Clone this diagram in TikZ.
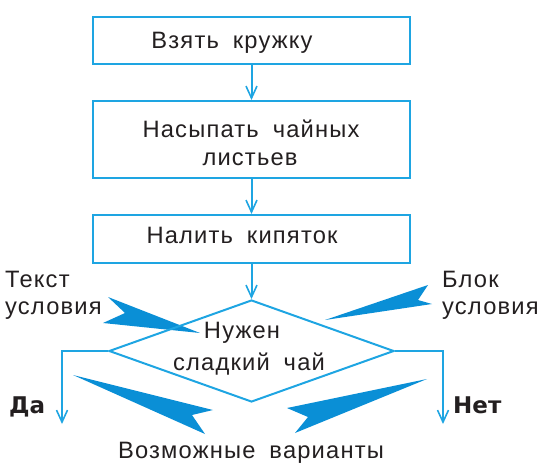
\documentclass[tikz,border=0pt]{standalone}
\usepackage{fontspec}
\setmainfont{Liberation Sans}[LetterSpace=5,WordSpace=1.8]
\newfontfamily\boldwide{DejaVu Sans}[WordSpace=1.5]
\usetikzlibrary{arrows.meta,shapes.geometric}
\definecolor{lineblue}{HTML}{1EA5E2}
\definecolor{wedgeblue}{HTML}{0A8FD6}
\definecolor{ink}{HTML}{231F20}
\tikzset{
  stepbox/.style={draw=lineblue,line width=2pt,minimum width=317pt,inner sep=0pt},
  cond/.style={draw=lineblue,line width=2pt,diamond,minimum width=285pt,minimum height=102pt,inner sep=0pt},
  arr/.style={draw=lineblue,line width=2pt,-{Straight Barb[length=12pt,width=11pt,line width=1.6pt]}},
  txt/.style={text=ink,font=\fontsize{23.7}{28}\selectfont,inner sep=0pt,anchor=base},
  ltxt/.style={txt,anchor=base west},
  btxt/.style={txt,anchor=base west,font=\fontsize{23}{28}\selectfont\boldwide\bfseries},
  wedge/.style={fill=wedgeblue,draw=none}
}
\begin{document}
\begin{tikzpicture}[x=1pt,y=-1pt]
\useasboundingbox (0,0) rectangle (541,471);
% pointer wedges
\fill[wedge] (108,297) -- (125,313) -- (103,323) -- (200,333) -- cycle;
\fill[wedge] (428,285) -- (418,300) -- (432,304) -- (325,320) -- cycle;
\fill[wedge] (73,375) -- (213,410) -- (192,415) -- (205,434) -- cycle;
\fill[wedge] (427,379) -- (287,408) -- (308,417) -- (295,433) -- cycle;
% boxes
\node[stepbox,minimum height=47pt] (b1) at (251.5,40.5) {};
\node[stepbox,minimum height=77pt] (b2) at (251.5,139.5) {};
\node[stepbox,minimum height=48pt] (b3) at (251.5,239) {};
\node[cond] (d) at (251.5,351) {};
\coordinate (yesend) at (62,424);
\coordinate (noend) at (443,424);
% connectors
\draw[arr] (b1.south) -- (b2.north);
\draw[arr] (b2.south) -- (b3.north);
\draw[arr] (b3.south) -- (d.north);
\draw[arr] (d.west) -| (yesend);
\draw[arr] (d.east) -| (noend);
% texts
\node[txt] (t1) at (232,48) {Взять кружку};
\node[txt] (t2a) at (251,137) {Насыпать чайных};
\node[txt] (t2b) at (250,165) {листьев};
\node[txt] (t3) at (242,243) {Налить кипяток};
\node[txt] (d1) at (242,338) {Нужен};
\node[txt] (d2) at (249,370) {сладкий чай};
\node[ltxt] (l1) at (5,287) {Текст};
\node[ltxt] (l2) at (5,314) {условия};
\node[ltxt] (r1) at (442,287) {Блок};
\node[ltxt] (r2) at (442,314) {условия};
\node[btxt] (yes) at (9,413) {Да};
\node[btxt] (no) at (453,413) {Нет};
\node[txt] (var) at (251,458) {Возможные варианты};
\end{tikzpicture}
\end{document}
